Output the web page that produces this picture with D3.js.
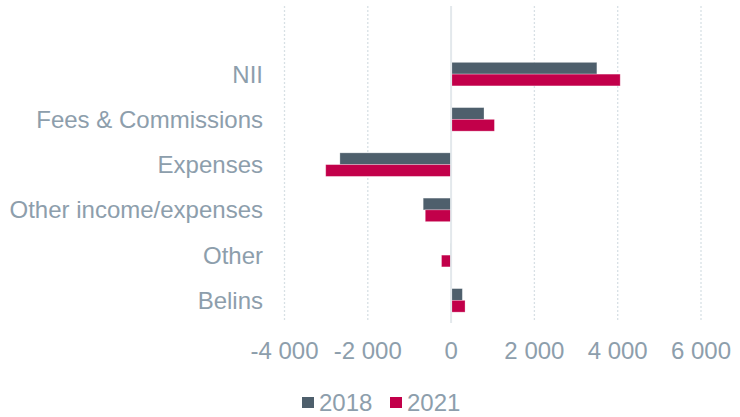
<!DOCTYPE html>
<html lang="en">
<head>
<meta charset="utf-8">
<title>NII, fees and expenses 2018 vs 2021</title>
<script src="https://cdn.jsdelivr.net/npm/d3@7"></script>
<style>
  body { margin: 0; background: #fff; }
  .lbl { font-family: "Liberation Sans", Arial, sans-serif; font-size: 24px; fill: #8d9eac; }
</style>
</head>
<body>
<div id="chart"></div>
<script>
var categories = ["NII", "Fees & Commissions", "Expenses", "Other income/expenses", "Other", "Belins"];
var values2018 = [3500, 790, -2670, -670, -15, 270];
var values2021 = [4060, 1040, -3010, -620, -230, 335];
var seriesNames = ["2018", "2021"];
var seriesColors = ["#4e5f6c", "#c2004a"];
var tickValues = [-4000, -2000, 0, 2000, 4000, 6000];

var W = 740, H = 417;
var plot = {left: 284.5, right: 701, top: 51.5, bottom: 323};

var svg = d3.select("#chart").append("svg")
  .attr("width", W).attr("height", H);

var x = d3.scaleLinear().domain([-4000, 6000]).range([plot.left, plot.right]);
var y = d3.scaleBand().domain(categories).range([plot.top, plot.bottom]).paddingInner(0.48).paddingOuter(0.24);
var inner = d3.scaleBand().domain(seriesNames).range([0, y.bandwidth()]);

// dotted grid lines
svg.append("g").selectAll("line")
  .data(tickValues.filter(function(d) { return d !== 0; }))
  .enter().append("line")
  .attr("x1", function(d) { return x(d); })
  .attr("x2", function(d) { return x(d); })
  .attr("y1", 6).attr("y2", plot.bottom - 1)
  .attr("stroke", "#d8e0e5")
  .attr("stroke-width", 1.3)
  .attr("stroke-dasharray", "2,2");

var rows = categories.map(function(c, i) {
  return {cat: c, vals: [values2018[i], values2021[i]]};
});

var groups = svg.append("g").selectAll("g")
  .data(rows).enter().append("g")
  .attr("transform", function(d) { return "translate(0," + y(d.cat) + ")"; });

groups.selectAll("rect")
  .data(function(d) { return d.vals.map(function(v, j) { return {v: v, s: seriesNames[j], j: j}; }); })
  .enter().append("rect")
  .attr("x", function(d) { return x(Math.min(0, d.v)); })
  .attr("y", function(d) { return inner(d.s); })
  .attr("width", function(d) { return Math.abs(x(d.v) - x(0)); })
  .attr("height", inner.bandwidth())
  .attr("fill", function(d) { return seriesColors[d.j]; })
  .attr("stroke", "rgba(255,255,255,0.35)")
  .attr("stroke-width", 0.8);

// zero line
svg.append("line")
  .attr("x1", x(0)).attr("x2", x(0))
  .attr("y1", 6).attr("y2", plot.bottom)
  .attr("stroke", "#e3e8ec")
  .attr("stroke-width", 2);

// category labels
svg.append("g").selectAll("text")
  .data(categories).enter().append("text")
  .attr("class", "lbl")
  .attr("x", 263)
  .attr("y", function(d) { return y(d) + y.bandwidth() / 2; })
  .attr("dy", "0.35em")
  .attr("text-anchor", "end")
  .text(function(d) { return d; });

// x tick labels
var fmt = function(d) { return d3.format(",")(d).replace(/,/g, " ").replace("−", "-"); };
svg.append("g").selectAll("text")
  .data(tickValues).enter().append("text")
  .attr("class", "lbl")
  .attr("x", function(d) { return x(d); })
  .attr("y", 351)
  .attr("dy", "0.35em")
  .attr("text-anchor", "middle")
  .text(fmt);

// legend
var legendX = [302, 390];
var legend = svg.append("g").selectAll("g")
  .data(seriesNames).enter().append("g")
  .attr("transform", function(d, i) { return "translate(" + legendX[i] + ",397)"; });
legend.append("rect")
  .attr("width", 12).attr("height", 11)
  .attr("fill", function(d, i) { return seriesColors[i]; });
legend.append("text")
  .attr("class", "lbl")
  .attr("x", 17).attr("y", 5.5)
  .attr("dy", "0.35em")
  .text(function(d) { return d; });
</script>
</body>
</html>
